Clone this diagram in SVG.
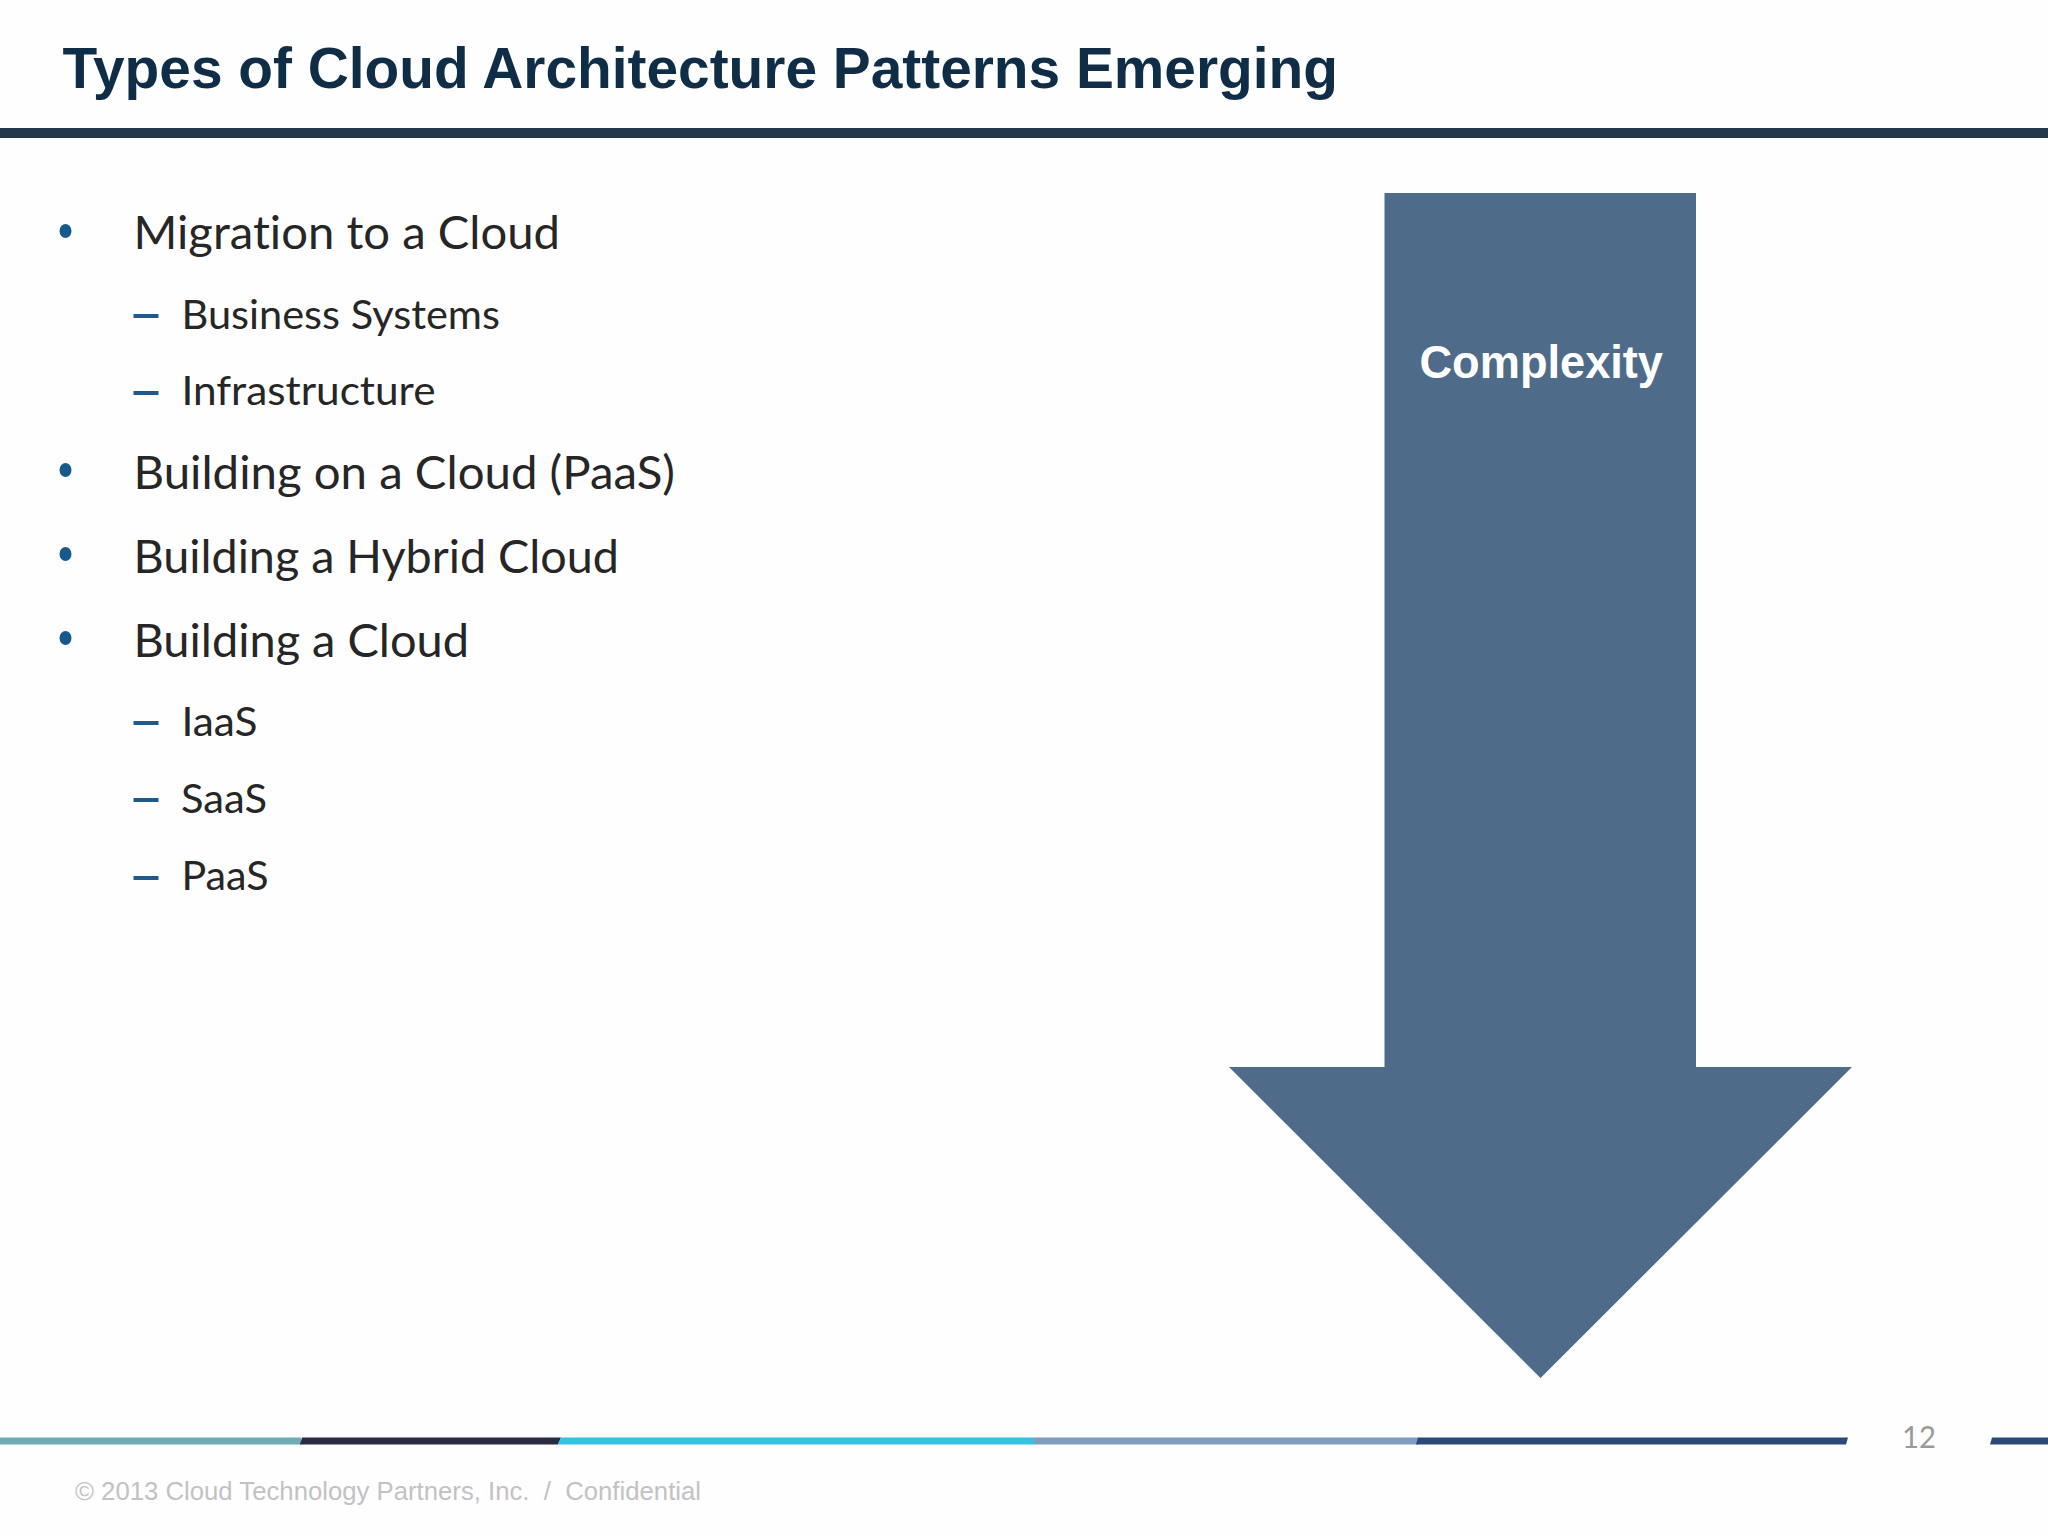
<svg xmlns="http://www.w3.org/2000/svg" width="2048" height="1536" viewBox="0 0 2048 1536">
<style>
.m{font-family:"Lato","Open Sans",sans-serif;font-size:47px;fill:#262626;font-variant-ligatures:none}
.s{font-family:"Lato","Open Sans",sans-serif;font-size:41px;fill:#262626;font-variant-ligatures:none}
.b{fill:#17598c}
.d{fill:#1f5a8c}
.a{font-family:"Liberation Sans",Arial,sans-serif}
</style>
<rect width="2048" height="1536" fill="#fefefe"/>
<g id="header">
<text class="a" x="62.500" y="88" font-size="57" font-weight="700" fill="#0f2d47" textLength="1275.500" lengthAdjust="spacingAndGlyphs">Types of Cloud Architecture Patterns Emerging</text>
<rect x="0" y="128" width="2048" height="10" fill="#233748"/>
</g>
<g id="list">
<ellipse class="b" cx="65.500" cy="231" rx="6" ry="7"/>
<text class="m" x="133.500" y="248.500" textLength="426.500" lengthAdjust="spacingAndGlyphs">Migration to a Cloud</text>
<rect class="d" x="133.500" y="314" width="25" height="4"/>
<text class="s" x="181.500" y="328.500" textLength="318.500" lengthAdjust="spacingAndGlyphs">Business Systems</text>
<rect class="d" x="133.500" y="391" width="25" height="4"/>
<text class="s" x="181.500" y="404.500" textLength="254" lengthAdjust="spacingAndGlyphs">Infrastructure</text>
<ellipse class="b" cx="65.500" cy="470" rx="6" ry="7"/>
<text class="m" x="133.500" y="488.500" textLength="541.500" lengthAdjust="spacingAndGlyphs">Building on a Cloud (PaaS)</text>
<ellipse class="b" cx="65.500" cy="554" rx="6" ry="7"/>
<text class="m" x="133.500" y="572.500" textLength="485.500" lengthAdjust="spacingAndGlyphs">Building a Hybrid Cloud</text>
<ellipse class="b" cx="65.500" cy="638" rx="6" ry="7"/>
<text class="m" x="133.500" y="656.500" textLength="335.500" lengthAdjust="spacingAndGlyphs">Building a Cloud</text>
<rect class="d" x="133.500" y="721" width="25" height="4"/>
<text class="s" x="181.500" y="735.500" textLength="76" lengthAdjust="spacingAndGlyphs">IaaS</text>
<rect class="d" x="133.500" y="798" width="25" height="4"/>
<text class="s" x="181" y="812.500" textLength="86" lengthAdjust="spacingAndGlyphs">SaaS</text>
<rect class="d" x="133.500" y="876" width="25" height="4"/>
<text class="s" x="181.500" y="889.500" textLength="87" lengthAdjust="spacingAndGlyphs">PaaS</text>
</g>
<g id="complexity-arrow">
<polygon points="1384.500,193 1696,193 1696,1067 1852,1067 1540.500,1378 1229,1067 1384.500,1067" fill="#4e6b8a"/>
<text class="a" x="1419.500" y="378" font-size="46" font-weight="700" fill="#fff" textLength="243.500" lengthAdjust="spacingAndGlyphs">Complexity</text>
</g>
<g id="footer">
<rect x="0" y="1437.500" width="301" height="7" fill="#6fabb5"/>
<polygon points="302,1437.500 561,1437.500 558,1444.500 300,1444.500" fill="#2b2c42"/>
<polygon points="561,1437.500 1034,1437.500 1034,1444.500 558,1444.500" fill="#35c1e4"/>
<rect x="1034" y="1437.500" width="384" height="7" fill="#7e9cc0"/>
<polygon points="1418,1437.500 1848,1437.500 1846,1444.500 1416,1444.500" fill="#2b4a79"/>
<polygon points="1992,1437.500 2048,1437.500 2048,1444.500 1990,1444.500" fill="#2b4a79"/>
<text x="1902" y="1448" font-family="Lato,sans-serif" font-size="30" fill="#9a9a9a" textLength="34" lengthAdjust="spacingAndGlyphs">12</text>
<text class="a" x="75" y="1500" font-size="25" fill="#c3c1c5" textLength="626" lengthAdjust="spacingAndGlyphs" xml:space="preserve">© 2013 Cloud Technology Partners, Inc.  /  Confidential</text>
</g>
</svg>
